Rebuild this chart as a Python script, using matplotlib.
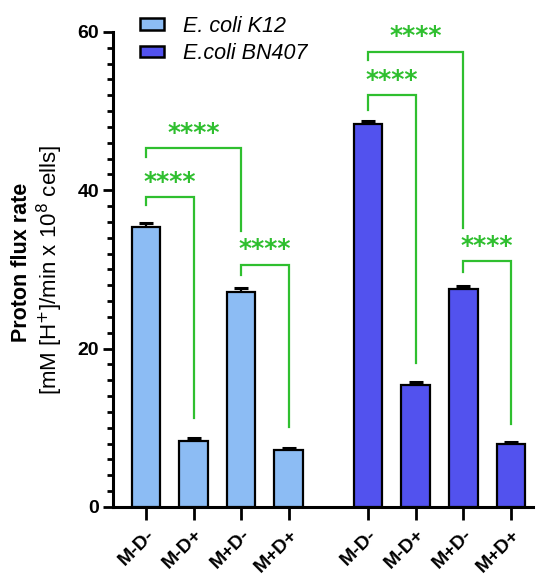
import matplotlib.pyplot as plt
from matplotlib.patches import Patch
from matplotlib.ticker import MultipleLocator

plt.rcParams['font.family'] = ['Liberation Sans', 'DejaVu Sans']

# data
labels = ["M-D-", "M-D+", "M+D-", "M+D+"]
k12 = [35.4, 8.3, 27.2, 7.2]
k12_err = [0.45, 0.4, 0.4, 0.2]
bn407 = [48.3, 15.4, 27.5, 7.9]
bn407_err = [0.45, 0.4, 0.4, 0.25]

# brackets: (bar a, bar b, line y, left leg end, right leg end)
brackets = [
    (0, 1, 39.1, 38.1, 11.2),
    (0, 2, 45.3, 44.2, 34.9),
    (2, 3, 30.6, 29.3, 10.1),
    (4, 5, 52.0, 50.1, 18.2),
    (4, 6, 57.5, 56.4, 35.2),
    (6, 7, 31.0, 29.7, 10.5),
]

light = '#8cbcf4'
dark = '#5252ee'
green = '#2fbf2f'

x1 = [0, 1, 2, 3]
x2 = [4.67, 5.67, 6.67, 7.67]
xs = x1 + x2

fig = plt.figure(figsize=(5.36, 5.76), dpi=100)
ax = fig.add_axes([0.211, 0.12, 0.783, 0.8247])

w = 0.6
ax.bar(x1, k12, w, color=light, edgecolor='black', linewidth=1.6, zorder=3)
ax.bar(x2, bn407, w, color=dark, edgecolor='black', linewidth=1.6, zorder=3)
ax.errorbar(x1, k12, yerr=[[0] * 4, k12_err], fmt='none', ecolor='black',
            elinewidth=1.6, capsize=5, capthick=2.2, zorder=2)
ax.errorbar(x2, bn407, yerr=[[0] * 4, bn407_err], fmt='none', ecolor='black',
            elinewidth=1.6, capsize=5, capthick=2.2, zorder=2)

for a, b, y, ya, yb in brackets:
    xa, xb = xs[a], xs[b]
    ax.plot([xa, xa, xb, xb], [ya, y, y, yb], color=green, lw=1.6,
            solid_joinstyle='miter', zorder=4)
    ax.text((xa + xb) / 2, y + 1.95, '****', color=green, fontsize=18,
            fontweight='bold', family='DejaVu Sans', ha='center', va='center')

ax.set_ylim(0, 60)
ax.set_xlim(-0.69, 8.13)
ax.yaxis.set_major_locator(MultipleLocator(20))
ax.yaxis.set_minor_locator(MultipleLocator(2))
ax.set_xticks(xs)
ax.set_xticklabels(labels * 2, rotation=45, ha='right', rotation_mode='anchor',
                   fontsize=14, fontweight='bold')
for t in ax.get_yticklabels():
    t.set_fontsize(14)
    t.set_fontweight('bold')

for s in ['top', 'right']:
    ax.spines[s].set_visible(False)
for s in ['left', 'bottom']:
    ax.spines[s].set_linewidth(2.2)
ax.tick_params(axis='y', which='major', length=7, width=2, pad=3)
ax.tick_params(axis='y', which='minor', length=4, width=2)
ax.tick_params(axis='x', which='major', length=9, width=2, pad=5)

fig.text(0.04, 0.545, 'Proton flux rate', rotation=90, ha='center', va='center',
         fontsize=15.5, fontweight='bold')
fig.text(0.094, 0.531, r'[mM [H$^{+}$]/min x 10$^{8}$ cells]', rotation=90,
         ha='center', va='center', fontsize=16)

handles = [Patch(facecolor=light, edgecolor='black', linewidth=1.8),
           Patch(facecolor=dark, edgecolor='black', linewidth=1.8)]
leg = ax.legend(handles, ['E. coli K12', 'E.coli BN407'], loc='upper left',
                bbox_to_anchor=(0.064, 1.034), frameon=False, fontsize=15.5,
                handlelength=1.1, handleheight=0.45, labelspacing=0.3,
                handletextpad=0.9, borderaxespad=0, borderpad=0)
for t in leg.get_texts():
    t.set_fontstyle('italic')

fig.savefig('out.png', dpi=100)
